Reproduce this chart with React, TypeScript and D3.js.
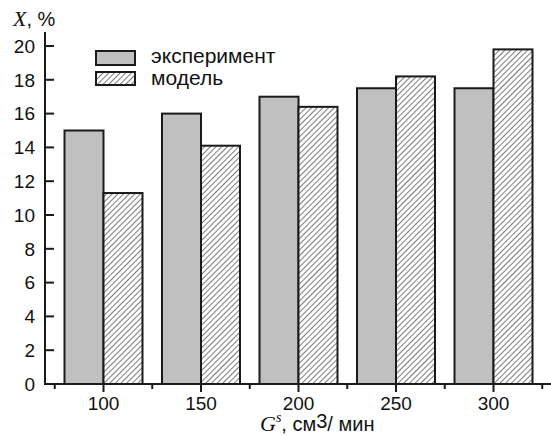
import React from "react";
import * as d3 from "d3";

const categories = [100, 150, 200, 250, 300];
const experiment = [15, 16, 17, 17.5, 17.5];
const model = [11.3, 14.1, 16.4, 18.2, 19.8];
const yTicks = [0, 2, 4, 6, 8, 10, 12, 14, 16, 18, 20];
const xMajorTicks = [100, 150, 200, 250, 300];
const xMinorTicks = [75, 125, 175, 225, 275, 325];
const legendLabels = ["эксперимент", "модель"];

const W = 551;
const H = 436;

export default function App() {
  const x = d3.scaleLinear().domain([70, 330]).range([45, 552]);
  const y = d3.scaleLinear().domain([0, 20]).range([384, 46]);
  const barW = 20;
  const sans = "'Liberation Sans', Arial, sans-serif";
  const serif = "'Liberation Serif', 'Times New Roman', serif";
  const stroke = "#1a1a1a";
  const axisX0 = x(70);
  const axisY0 = y(0);

  return (
    <svg
      width={W}
      height={H}
      style={{ position: "absolute", left: 0, top: 0, background: "#fff" }}
    >
      <defs>
        <pattern
          id="hatch"
          patternUnits="userSpaceOnUse"
          width={4}
          height={4}
          patternTransform="rotate(45)"
        >
          <rect width={4} height={4} fill="#fff" />
          <line x1={0} y1={0} x2={0} y2={4} stroke="#333" strokeWidth={1.3} />
        </pattern>
      </defs>

      {categories.map((c, i) => (
        <g key={c}>
          <rect
            x={x(c - barW)}
            y={y(experiment[i])}
            width={x(c) - x(c - barW)}
            height={y(0) - y(experiment[i])}
            fill="#c0c0c0"
            stroke={stroke}
            strokeWidth={2}
          />
          <rect
            x={x(c)}
            y={y(model[i])}
            width={x(c + barW) - x(c)}
            height={y(0) - y(model[i])}
            fill="url(#hatch)"
            stroke={stroke}
            strokeWidth={2}
          />
        </g>
      ))}

      {/* Y axis */}
      <line x1={axisX0} y1={32} x2={axisX0} y2={axisY0 + 1} stroke={stroke} strokeWidth={2} />
      {yTicks.map((t) => (
        <g key={t}>
          <line x1={axisX0} y1={y(t)} x2={axisX0 + 9} y2={y(t)} stroke={stroke} strokeWidth={2} />
          <text
            x={axisX0 - 10}
            y={y(t)}
            dy="0.36em"
            textAnchor="end"
            fontFamily={sans}
            fontSize={19}
            fill="#111"
          >
            {t}
          </text>
        </g>
      ))}

      {/* X axis */}
      <line x1={axisX0 - 1} y1={axisY0} x2={551} y2={axisY0} stroke={stroke} strokeWidth={2} />
      {xMajorTicks.map((t) => (
        <g key={t}>
          <line x1={x(t)} y1={axisY0} x2={x(t)} y2={axisY0 + 8} stroke={stroke} strokeWidth={2} />
          <text
            x={x(t)}
            y={410}
            textAnchor="middle"
            fontFamily={sans}
            fontSize={19}
            fill="#111"
          >
            {t}
          </text>
        </g>
      ))}
      {xMinorTicks.map((t) => (
        <line key={t} x1={x(t)} y1={axisY0} x2={x(t)} y2={axisY0 + 5} stroke={stroke} strokeWidth={2} />
      ))}

      {/* Legend */}
      <rect x={96} y={51} width={39} height={14} fill="#c0c0c0" stroke={stroke} strokeWidth={2} />
      <rect x={96} y={72} width={39} height={13} fill="url(#hatch)" stroke={stroke} strokeWidth={2} />
      <text x={151} y={62.5} fontFamily={sans} fontSize={21} fill="#111">
        {legendLabels[0]}
      </text>
      <text x={151} y={85} fontFamily={sans} fontSize={21} fill="#111">
        {legendLabels[1]}
      </text>

      {/* Y label */}
      <text x={13} y={26} fill="#111">
        <tspan fontFamily={serif} fontStyle="italic" fontSize={22}>X</tspan>
        <tspan fontFamily={sans} fontSize={20}>, %</tspan>
      </text>

      {/* X label */}
      <text x={260} y={431} fill="#111">
        <tspan fontFamily={serif} fontStyle="italic" fontSize={22}>G</tspan>
        <tspan fontFamily={serif} fontStyle="italic" fontSize={14} dy={-9}>s</tspan>
        <tspan fontFamily={sans} fontSize={20} dy={9}>,  см</tspan>
        <tspan fontFamily={sans} fontSize={20} dy={-3}>3</tspan>
        <tspan fontFamily={sans} fontSize={20} dy={3}>/ мин</tspan>
      </text>
    </svg>
  );
}
